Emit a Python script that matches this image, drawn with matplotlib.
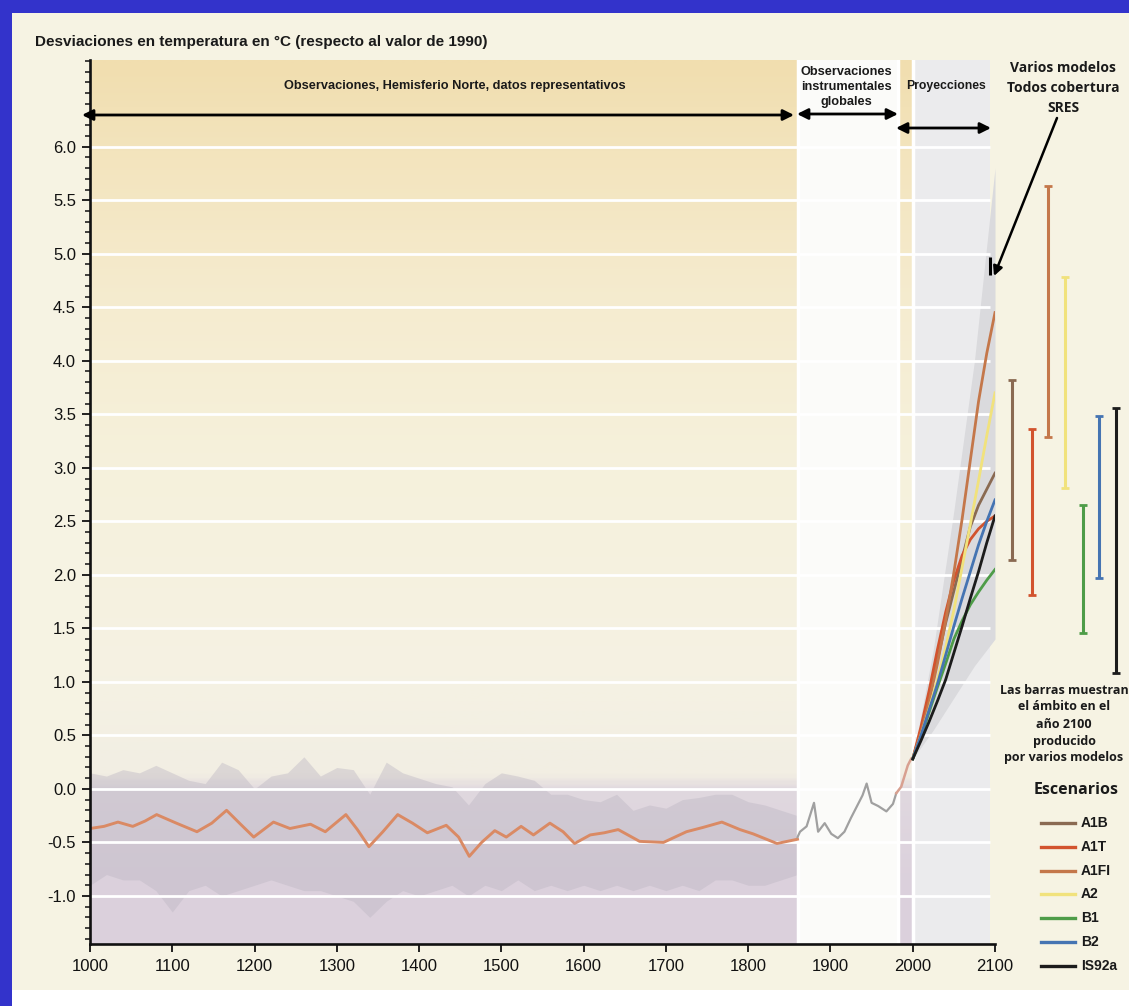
import numpy as np
import matplotlib
matplotlib.use("Agg")
import matplotlib.pyplot as plt
from matplotlib.colors import LinearSegmentedColormap
from matplotlib.lines import Line2D
from matplotlib.patches import Rectangle
from matplotlib.ticker import MultipleLocator

ARIAL = ["Liberation Sans", "DejaVu Sans"]
MYRIAD = ["Open Sans", "DejaVu Sans"]

# ------------------------------------------------------------------ data
title = "Desviaciones en temperatura en °C (respecto al valor de 1990)"

recon_years = [1000, 1017, 1034, 1052, 1067, 1081, 1105, 1130, 1148, 1166,
               1183, 1199, 1223, 1243, 1268, 1286, 1311, 1325, 1339, 1356,
               1374, 1392, 1410, 1433, 1448, 1461, 1476, 1492, 1506, 1524,
               1539, 1559, 1575, 1589, 1608, 1625, 1642, 1668, 1697, 1725,
               1745, 1768, 1790, 1806, 1835, 1860]
recon_vals = [-0.37, -0.35, -0.31, -0.35, -0.30, -0.24, -0.32, -0.40, -0.32, -0.20,
              -0.33, -0.45, -0.31, -0.37, -0.33, -0.40, -0.24, -0.38, -0.54, -0.40,
              -0.24, -0.32, -0.41, -0.34, -0.45, -0.63, -0.50, -0.39, -0.45, -0.35,
              -0.43, -0.32, -0.40, -0.51, -0.43, -0.41, -0.38, -0.49, -0.50, -0.40,
              -0.36, -0.31, -0.38, -0.42, -0.51, -0.47]

ann_years = [1000, 1020, 1040, 1060, 1080, 1100, 1120, 1140, 1160, 1180,
             1200, 1220, 1240, 1260, 1280, 1300, 1320, 1340, 1360, 1380,
             1400, 1420, 1440, 1460, 1480, 1500, 1520, 1540, 1560, 1580,
             1600, 1620, 1640, 1660, 1680, 1700, 1720, 1740, 1760, 1780,
             1800, 1820, 1840, 1860]
ann_hi = [0.15, 0.12, 0.18, 0.15, 0.22, 0.15, 0.08, 0.05, 0.25, 0.18,
          0.00, 0.12, 0.15, 0.30, 0.12, 0.20, 0.18, -0.05, 0.25, 0.15,
          0.10, 0.05, 0.02, -0.15, 0.05, 0.15, 0.12, 0.08, -0.05, -0.05,
          -0.10, -0.12, -0.05, -0.20, -0.15, -0.18, -0.10, -0.08, -0.05, -0.05,
          -0.12, -0.15, -0.20, -0.25]
ann_lo = [-0.90, -0.80, -0.85, -0.85, -0.95, -1.15, -0.95, -0.90, -1.00, -0.95,
          -0.90, -0.85, -0.90, -0.95, -0.95, -1.00, -1.05, -1.20, -1.05, -0.95,
          -1.00, -0.95, -0.90, -1.00, -0.90, -0.95, -0.85, -0.95, -0.90, -0.95,
          -0.90, -0.95, -0.90, -0.95, -0.90, -0.95, -0.90, -0.95, -0.85, -0.85,
          -0.90, -0.90, -0.85, -0.80]

inst_years = [1860, 1863, 1871, 1880, 1885, 1893, 1901, 1909, 1917, 1925,
              1933, 1939, 1944, 1950, 1958, 1968, 1976, 1980]
inst_vals = [-0.45, -0.40, -0.35, -0.13, -0.40, -0.32, -0.42, -0.46, -0.40, -0.27,
             -0.15, -0.06, 0.05, -0.13, -0.16, -0.21, -0.14, -0.04]

recent_years = [1980, 1986, 1994, 1998]
recent_vals = [-0.04, 0.02, 0.22, 0.28]

proj_years = [2000, 2010, 2020, 2030, 2040, 2050, 2060, 2070, 2080, 2090, 2100]
a1b = [0.28, 0.55, 0.85, 1.20, 1.55, 1.85, 2.15, 2.45, 2.65, 2.80, 2.95]
a1t = [0.28, 0.58, 0.92, 1.30, 1.65, 1.95, 2.18, 2.33, 2.43, 2.50, 2.55]
a1fi = [0.28, 0.52, 0.82, 1.17, 1.57, 2.02, 2.52, 3.07, 3.62, 4.07, 4.45]
a2 = [0.28, 0.50, 0.75, 1.02, 1.32, 1.67, 2.07, 2.47, 2.88, 3.30, 3.70]
b1 = [0.28, 0.48, 0.72, 0.95, 1.17, 1.40, 1.57, 1.72, 1.84, 1.95, 2.05]
b2 = [0.28, 0.50, 0.74, 0.98, 1.25, 1.52, 1.78, 2.03, 2.28, 2.50, 2.70]
is92a = [0.28, 0.45, 0.63, 0.82, 1.02, 1.27, 1.52, 1.78, 2.03, 2.30, 2.55]

env_years = [2000, 2025, 2050, 2075, 2100]
env_lo = [0.28, 0.55, 0.85, 1.15, 1.40]
env_hi = [0.28, 1.30, 2.60, 4.00, 5.80]
sres_marker = [4.80, 4.97]

scenarios = ["A1B", "A1T", "A1FI", "A2", "B1", "B2", "IS92a"]
bar_lo = [2.14, 1.81, 3.29, 2.81, 1.46, 1.97, 1.08]
bar_hi = [3.82, 3.36, 5.63, 4.78, 2.65, 3.48, 3.56]

x_ticks = [1000, 1100, 1200, 1300, 1400, 1500, 1600, 1700, 1800, 1900, 2000, 2100]
y_ticks = [-1.0, -0.5, 0.0, 0.5, 1.0, 1.5, 2.0, 2.5, 3.0, 3.5, 4.0, 4.5, 5.0, 5.5, 6.0]

# ------------------------------------------------------------------ style
colors = {"A1B": "#8a6a52", "A1T": "#d2532e", "A1FI": "#c4774a", "A2": "#f1e27c",
          "B1": "#4e9c48", "B2": "#4574b2", "IS92a": "#1c1c1c"}
series = [a1b, a1t, a1fi, a2, b1, b2, is92a]
bar_x = [2121, 2145, 2164, 2185, 2207, 2226, 2247]

W, H = 1129, 1006
fig = plt.figure(figsize=(W / 100, H / 100), dpi=100)
fig.patch.set_facecolor("white")

# background page
bg = fig.add_axes([0, 0, 1, 1], zorder=0)
bg.set_xlim(0, W); bg.set_ylim(H, 0); bg.axis("off")
bg.add_patch(Rectangle((12, 13), W - 12, 977, color="#f6f3e3", lw=0))
bg.add_patch(Rectangle((0, 0), 12, H, color="#3333cb", lw=0))
bg.add_patch(Rectangle((0, 0), W, 13, color="#3333cb", lw=0))

# main axes: x 1000->90px, 2100->995px ; y 6.81->60px, -1.449->944px
YTOP, YBOT = 6.81, -1.449
ax = fig.add_axes([90 / W, 1 - 944 / H, 905 / W, 884 / H], zorder=1)
ax.set_facecolor("none")

stops = [(0.0, "#dcd1dd"), (0.054, "#dbd0dc"), (0.172, "#e0d8df"), (0.19, "#f2eee3"),
         (0.30, "#f5f2e3"), (0.54, "#f6f1dc"), (0.72, "#f5ecd0"), (0.90, "#f3e4bd"),
         (1.0, "#f1deaf")]
cmap = LinearSegmentedColormap.from_list("bgA", stops)
grad = np.linspace(0, 1, 400).reshape(-1, 1)
ax.imshow(grad, cmap=cmap, origin="lower", aspect="auto",
          extent=[1000, 1860, YBOT, YTOP], zorder=0, interpolation="bilinear")
ax.imshow(grad, cmap=cmap, origin="lower", aspect="auto",
          extent=[1982, 2000, YBOT, YTOP], zorder=0, interpolation="bilinear")
ax.axvspan(1860, 1982, color="#fbfbf9", lw=0, zorder=0)
ax.axvspan(2000, 2094, color="#ebebed", lw=0, zorder=0)
ax.set_xlim(1000, 2100)
ax.set_ylim(YBOT, YTOP)

# reconstruction annual spread and model envelope
ax.fill_between(ann_years, ann_lo, ann_hi, color="#bcb6c2", alpha=0.42, lw=0, zorder=1)
ax.fill_between(env_years, env_lo, env_hi, color="#dadadd", lw=0, zorder=1)

# white separators and grid lines
for xv in (1860, 1982, 2000):
    ax.axvline(xv, color="white", lw=2.5, zorder=2)
ax.hlines(y_ticks, 1000, 2094, colors="white", lw=2.0, zorder=2)

# series
ax.plot(recon_years, recon_vals, color="#da8a64", lw=2.1, zorder=4, solid_joinstyle="round")
ax.plot(inst_years, inst_vals, color="#a0a0a0", lw=1.6, zorder=4)
ax.plot(recent_years, recent_vals, color="#d8a090", lw=1.8, zorder=4)
for name, vals in zip(scenarios, series):
    ax.plot(proj_years, vals, color=colors[name], lw=2.0, zorder=5)
ax.vlines(2094, sres_marker[0], sres_marker[1], color="black", lw=2.2, zorder=6)

# range bars at 2100
for xb, lo, hi, name in zip(bar_x, bar_lo, bar_hi, scenarios):
    c = colors[name]
    ax.vlines(xb, lo, hi, color=c, lw=2.2, clip_on=False, zorder=6)
    ax.hlines([lo, hi], xb - 5, xb + 5, color=c, lw=2.0, clip_on=False, zorder=6)

# axes styling
for s in ("top", "right"):
    ax.spines[s].set_visible(False)
for s in ("left", "bottom"):
    ax.spines[s].set_linewidth(1.9)
    ax.spines[s].set_color("#111111")
    ax.spines[s].set_zorder(7)
ax.set_xticks(x_ticks)
ax.set_xticklabels([str(v) for v in x_ticks], family=ARIAL, fontsize=12)
ax.set_yticks(y_ticks)
ax.set_yticklabels([f"{v:.1f}" for v in y_ticks], family=ARIAL, fontsize=12)
ax.yaxis.set_minor_locator(MultipleLocator(0.1))
ax.tick_params(axis="x", direction="out", length=6, width=1.3, pad=5, colors="#111111")
ax.tick_params(axis="y", which="major", direction="out", length=6, width=1.3, pad=4, colors="#111111")
ax.tick_params(axis="y", which="minor", direction="out", length=3.5, width=1.1, colors="#111111")

# overlay for annotations (pixel coordinates)
ov = fig.add_axes([0, 0, 1, 1], zorder=3)
ov.set_xlim(0, W); ov.set_ylim(H, 0); ov.axis("off"); ov.patch.set_alpha(0)

ov.text(35, 42, title, family=ARIAL, fontweight="bold", fontsize=11,
        ha="left", va="center", color="#1a1a1a")

hdr = dict(family=ARIAL, fontweight="bold", fontsize=9.2, ha="center", va="center", color="#1a1a1a")
ov.text(455, 86, "Observaciones, Hemisferio Norte, datos representativos", **hdr)
ov.text(846, 72, "Observaciones", **hdr)
ov.text(846, 87, "instrumentales", **hdr)
ov.text(846, 102, "globales", **hdr)
ov.text(946, 86, "Proyecciones", family=ARIAL, fontweight="bold", fontsize=8.8,
        ha="center", va="center", color="#1a1a1a")

arr = dict(arrowstyle="<|-|>", color="black", lw=2.0, mutation_scale=16, shrinkA=0, shrinkB=0)
ov.annotate("", xy=(794, 115), xytext=(82, 115), arrowprops=arr)
ov.annotate("", xy=(898, 114), xytext=(797, 114), arrowprops=arr)
ov.annotate("", xy=(991, 128), xytext=(896, 128), arrowprops=arr)

side = dict(family=MYRIAD, fontweight="bold", fontsize=10, ha="center", va="center", color="#1a1a1a")
ov.text(1063, 68, "Varios modelos", **side)
ov.text(1063, 88, "Todos cobertura", **side)
ov.text(1063, 108, "SRES", **side)
ov.annotate("", xy=(994, 276), xytext=(1057, 118),
            arrowprops=dict(arrowstyle="-|>", color="black", lw=1.8, mutation_scale=14,
                            shrinkA=0, shrinkB=0))

note = dict(family=MYRIAD, fontweight="bold", fontsize=9, ha="center", va="center", color="#1a1a1a")
for yy, line in zip([690, 707, 724, 741, 757],
                    ["Las barras muestran", "el ámbito en el", "año 2100", "producido",
                     "por varios modelos"]):
    ov.text(1064, yy, line, **note)

ov.text(1076, 790, "Escenarios", family=MYRIAD, fontweight="bold", fontsize=11.5,
        ha="center", va="center", color="#1a1a1a")
for i, name in enumerate(scenarios):
    yy = 823 + i * 23.8
    ov.add_line(Line2D([1041, 1075], [yy, yy], color=colors[name], lw=2.4))
    ov.text(1081, yy, name, family=ARIAL, fontweight="bold", fontsize=10,
            ha="left", va="center", color="#1a1a1a")

fig.savefig("out.png", dpi=100)
